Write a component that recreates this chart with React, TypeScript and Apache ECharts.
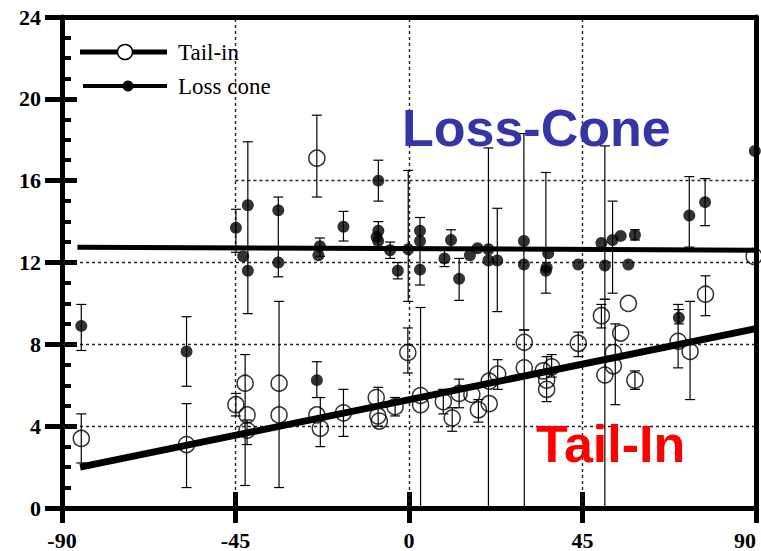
import React, { useEffect, useRef } from "react";
import * as echarts from "echarts";

const xTicks = [-90, -45, 0, 45, 90];
const yTicks = [0, 4, 8, 12, 16, 20, 24];

const tailInPoints: [number, number][] = [
  [-85, 3.4], [-57.7, 3.1], [-44.9, 5.05], [-42.5, 6.1], [-42, 4.55], [-42, 3.8],
  [-33.7, 6.1], [-33.7, 4.55], [-23.9, 17.1], [-23.9, 4.55], [-23, 3.9], [-17, 4.65],
  [-8.5, 5.4], [-8.1, 4.5], [-7.7, 4.25], [-3.6, 4.95], [-0.3, 7.6], [3.0, 5.5],
  [3.0, 5.05], [8.9, 5.2], [11.2, 4.4], [13.0, 5.6], [16.3, 5.55], [18.0, 4.8],
  [20.8, 5.1], [20.8, 6.2], [23.0, 6.55], [29.9, 8.1], [29.9, 6.85], [34.8, 6.7],
  [37.0, 6.9], [35.7, 6.25], [35.7, 5.8], [43.9, 8.05], [49.9, 9.4], [50.8, 6.5],
  [53.0, 7.6], [53.0, 6.95], [54.9, 8.55], [56.9, 10.0], [58.6, 6.25], [69.8, 8.15],
  [72.9, 7.65], [76.9, 10.45], [89.5, 12.3],
];

const lossConePoints: [number, number][] = [
  [-85, 8.9], [-57.7, 7.65], [-44.9, 13.7], [-41.8, 14.8], [-43, 12.3], [-41.8, 11.6],
  [-33.9, 14.55], [-33.9, 12.0], [-23.9, 6.25], [-23.5, 12.35], [-23.1, 12.8], [-17, 13.75],
  [-7.95, 16.0], [-8.4, 13.25], [-7.95, 13.55], [-8.0, 13.05], [-4.9, 12.6], [-2.9, 11.6],
  [-0.2, 12.65], [2.85, 13.55], [2.85, 13.05], [2.85, 11.65], [9.2, 12.2], [10.9, 13.1],
  [13.0, 11.2], [15.8, 12.35], [17.8, 12.7], [20.6, 12.65], [20.6, 12.1], [22.9, 12.1],
  [29.8, 13.05], [29.8, 11.9], [36.1, 12.45], [35.5, 11.6], [35.7, 11.75], [43.9, 11.9],
  [49.9, 12.95], [50.8, 11.85], [52.8, 13.1], [54.9, 13.3], [56.9, 11.9], [58.6, 13.35],
  [70.0, 9.3], [72.7, 14.3], [76.8, 14.95], [89.7, 17.45],
];

// [x, low, high]
const tailInErrors: [number, number, number][] = [
  [-85, 2.2, 4.6], [-57.7, 1.0, 5.1], [-44.9, 4.5, 5.6], [-42.5, 1.1, 7.5], [-42, 3.1, 4.3],
  [-33.7, 1.0, 10.1], [-23.9, 15.2, 19.2], [-23, 3.0, 5.4], [-17, 3.5, 5.8], [-8, 4.0, 5.9],
  [-3.6, 4.5, 5.4], [-0.3, 6.6, 8.8], [3.0, 0, 9.8], [8.9, 4.6, 5.8], [11.2, 3.75, 4.9],
  [13.0, 4.9, 6.3], [18.0, 4.2, 5.3], [23.0, 5.8, 7.25], [29.9, 0, 8.7], [35.7, 5.2, 7.4],
  [37.0, 6.4, 7.5], [43.9, 7.4, 8.6], [49.9, 8.8, 9.95], [50.8, 0, 10.2], [53.5, 5.05, 9.0],
  [58.6, 5.8, 6.7], [69.8, 6.85, 9.95], [72.9, 5.3, 10.1], [76.9, 9.4, 11.35],
];

const lossConeErrors: [number, number, number][] = [
  [-85, 7.7, 9.95], [-57.7, 5.95, 9.35], [-44.9, 12.5, 14.6], [-41.8, 9.5, 17.9],
  [-33.9, 11.3, 15.2], [-23.9, 5.4, 7.15], [-23.1, 12.3, 13.2], [-17, 13.05, 14.5],
  [-7.95, 15.0, 17.0], [-7.95, 12.6, 14.0], [-4.9, 12.2, 13.0], [-2.9, 11.2, 12.0],
  [-0.2, 10.1, 16.5], [2.85, 10.9, 14.2], [9.2, 11.8, 12.6], [10.9, 12.6, 13.6],
  [13.0, 10.15, 12.2], [20.6, 0, 17.6], [22.9, 9.6, 14.65], [29.8, 8.7, 18.3],
  [35.5, 10.5, 16.4], [50.8, 10.2, 17.7], [52.8, 10.5, 15.0], [58.6, 13.1, 13.6],
  [70.0, 9.0, 9.7], [72.7, 12.75, 16.2], [76.8, 13.8, 16.1],
];

const tailInFit: [number, number][] = [[-85.3, 2.0], [90, 8.77]];
const lossConeFit: [number, number][] = [[-86, 12.75], [90, 12.6]];

const gridXLines = [-45, 0, 45];
const gridYLines: [number, number][] = [[4, -90], [8, -90], [12, -90], [16, -45]];

const SERIF = "'Liberation Serif', 'DejaVu Serif', serif";
const SANS = "'Liberation Sans', Arial, sans-serif";

function errorSeries(name: string, data: [number, number, number][]) {
  return {
    type: "custom",
    name,
    xAxisIndex: 0,
    yAxisIndex: 0,
    data,
    encode: { x: 0, y: [1, 2] },
    z: 2,
    silent: true,
    renderItem: (params: any, api: any) => {
      const x = api.value(0);
      const lo = api.value(1);
      const hi = api.value(2);
      const pHi = api.coord([x, hi]);
      const pLo = api.coord([x, lo]);
      const w = 5;
      const style = { stroke: "#000", lineWidth: 1.2 };
      const children: any[] = [
        { type: "line", shape: { x1: pHi[0], y1: pHi[1], x2: pLo[0], y2: pLo[1] }, style },
        { type: "line", shape: { x1: pHi[0] - w, y1: pHi[1], x2: pHi[0] + w, y2: pHi[1] }, style },
      ];
      if (lo > 0) {
        children.push({ type: "line", shape: { x1: pLo[0] - w, y1: pLo[1], x2: pLo[0] + w, y2: pLo[1] }, style });
      }
      return { type: "group", children };
    },
  };
}

export default function App() {
  const ref = useRef<HTMLDivElement>(null);
  useEffect(() => {
    if (!ref.current) return;
    const chart = echarts.init(ref.current, undefined, { renderer: "svg" });
    const dotted = { color: "#222", width: 1.4, type: [3, 3] as any };
    const markData: any[] = [];
    gridYLines.forEach(([y, x0]) => markData.push([{ coord: [x0, y] }, { coord: [90, y] }]));
    gridXLines.forEach((x) => markData.push([{ coord: [x, 0] }, { coord: [x, 24] }]));

    const baseX = { type: "value", min: -90, max: 90, interval: 45, splitLine: { show: false } };
    const baseY = { type: "value", min: 0, max: 24, splitLine: { show: false } };
    const hiddenLine = { show: false, onZero: false };
    const thickLine = { show: true, onZero: false, lineStyle: { color: "#000", width: 5 } };

    chart.setOption({
      animation: false,
      backgroundColor: "#fff",
      grid: { left: 62, right: 5, top: 17, bottom: 43, containLabel: false, outerBoundsMode: "none" },
      xAxis: [
        {
          ...baseX,
          position: "bottom",
          axisLine: thickLine,
          axisTick: { show: true, inside: false, length: 15, lineStyle: { color: "#000", width: 5 } },
          axisLabel: {
            show: true, color: "#000", fontFamily: SERIF, fontWeight: "bold", fontSize: 22, margin: 21,
            showMaxLabel: true, showMinLabel: true, hideOverlap: false, alignMaxLabel: "right",
            formatter: (v: number) => (xTicks.includes(v) ? String(v) : ""),
          },
        },
        {
          ...baseX,
          position: "bottom",
          axisLine: hiddenLine,
          axisTick: { show: true, inside: true, length: 16, lineStyle: { color: "#000", width: 5 } },
          axisLabel: { show: false },
        },
        {
          ...baseX,
          position: "top",
          axisLine: thickLine,
          axisTick: { show: false },
          axisLabel: { show: false },
        },
      ],
      yAxis: [
        {
          ...baseY,
          interval: 4,
          position: "left",
          axisLine: thickLine,
          axisTick: { show: true, inside: false, length: 17, lineStyle: { color: "#000", width: 5 } },
          axisLabel: {
            show: true, color: "#000", fontFamily: SERIF, fontWeight: "bold", fontSize: 22, margin: 21,
            formatter: (v: number) => (yTicks.includes(v) ? String(v) : ""),
          },
        },
        {
          ...baseY,
          interval: 4,
          position: "left",
          axisLine: hiddenLine,
          axisTick: { show: true, inside: true, length: 15, lineStyle: { color: "#000", width: 5 } },
          axisLabel: { show: false },
        },
        {
          ...baseY,
          interval: 1,
          position: "left",
          axisLine: hiddenLine,
          axisTick: { show: true, inside: true, length: 9, lineStyle: { color: "#000", width: 4 } },
          axisLabel: { show: false },
        },
        {
          ...baseY,
          interval: 4,
          position: "right",
          axisLine: thickLine,
          axisTick: { show: false },
          axisLabel: { show: false },
        },
      ],
      series: [
        {
          type: "line",
          name: "Loss cone fit",
          xAxisIndex: 0,
          yAxisIndex: 0,
          data: lossConeFit,
          showSymbol: false,
          symbol: "none",
          lineStyle: { color: "#000", width: 5 },
          z: 3,
          silent: true,
          markLine: {
            silent: true,
            symbol: "none",
            label: { show: false },
            lineStyle: dotted,
            data: markData,
            z: 1,
          },
        },
        {
          type: "line",
          name: "Tail-in fit",
          xAxisIndex: 0,
          yAxisIndex: 0,
          data: tailInFit,
          showSymbol: false,
          symbol: "none",
          lineStyle: { color: "#000", width: 7 },
          z: 3,
          silent: true,
        },
        errorSeries("Tail-in errors", tailInErrors),
        errorSeries("Loss cone errors", lossConeErrors),
        {
          type: "scatter",
          name: "Tail-in",
          xAxisIndex: 0,
          yAxisIndex: 0,
          data: tailInPoints,
          symbol: "circle",
          symbolSize: 16,
          itemStyle: { color: "rgba(0,0,0,0)", borderColor: "#000", borderWidth: 1.5 },
          z: 4,
        },
        {
          type: "scatter",
          name: "Loss cone",
          xAxisIndex: 0,
          yAxisIndex: 0,
          data: lossConePoints,
          symbol: "circle",
          symbolSize: 12,
          itemStyle: { color: "#000" },
          z: 4,
        },
      ],
      graphic: [
        { type: "line", shape: { x1: 80, y1: 52, x2: 167, y2: 52 }, style: { stroke: "#000", lineWidth: 5 }, z: 10 },
        { type: "circle", shape: { cx: 125, cy: 52, r: 7.5 }, style: { fill: "#fff", stroke: "#000", lineWidth: 1.5 }, z: 11 },
        { type: "text", x: 178, y: 52, style: { text: "Tail-in", fill: "#000", font: `23px ${SERIF}`, verticalAlign: "middle", align: "left" }, z: 11 },
        { type: "line", shape: { x1: 83, y1: 86, x2: 167, y2: 86 }, style: { stroke: "#000", lineWidth: 4 }, z: 10 },
        { type: "circle", shape: { cx: 128, cy: 86, r: 5.5 }, style: { fill: "#000" }, z: 11 },
        { type: "text", x: 178, y: 86, style: { text: "Loss cone", fill: "#000", font: `23px ${SERIF}`, verticalAlign: "middle", align: "left" }, z: 11 },
        { type: "text", x: 402, y: 128, style: { text: "Loss-Cone", fill: "#3535A6", font: `bold 52px ${SANS}`, verticalAlign: "middle", align: "left" }, z: 11 },
        { type: "text", x: 536, y: 444, style: { text: "Tail-In", fill: "#FF0000", font: `bold 52px ${SANS}`, verticalAlign: "middle", align: "left" }, z: 11 },
      ],
    });
    return () => chart.dispose();
  }, []);
  return (
    <div
      ref={ref}
      style={{ position: "fixed", left: 0, top: 0, width: 761, height: 551, background: "#fff" }}
    />
  );
}
